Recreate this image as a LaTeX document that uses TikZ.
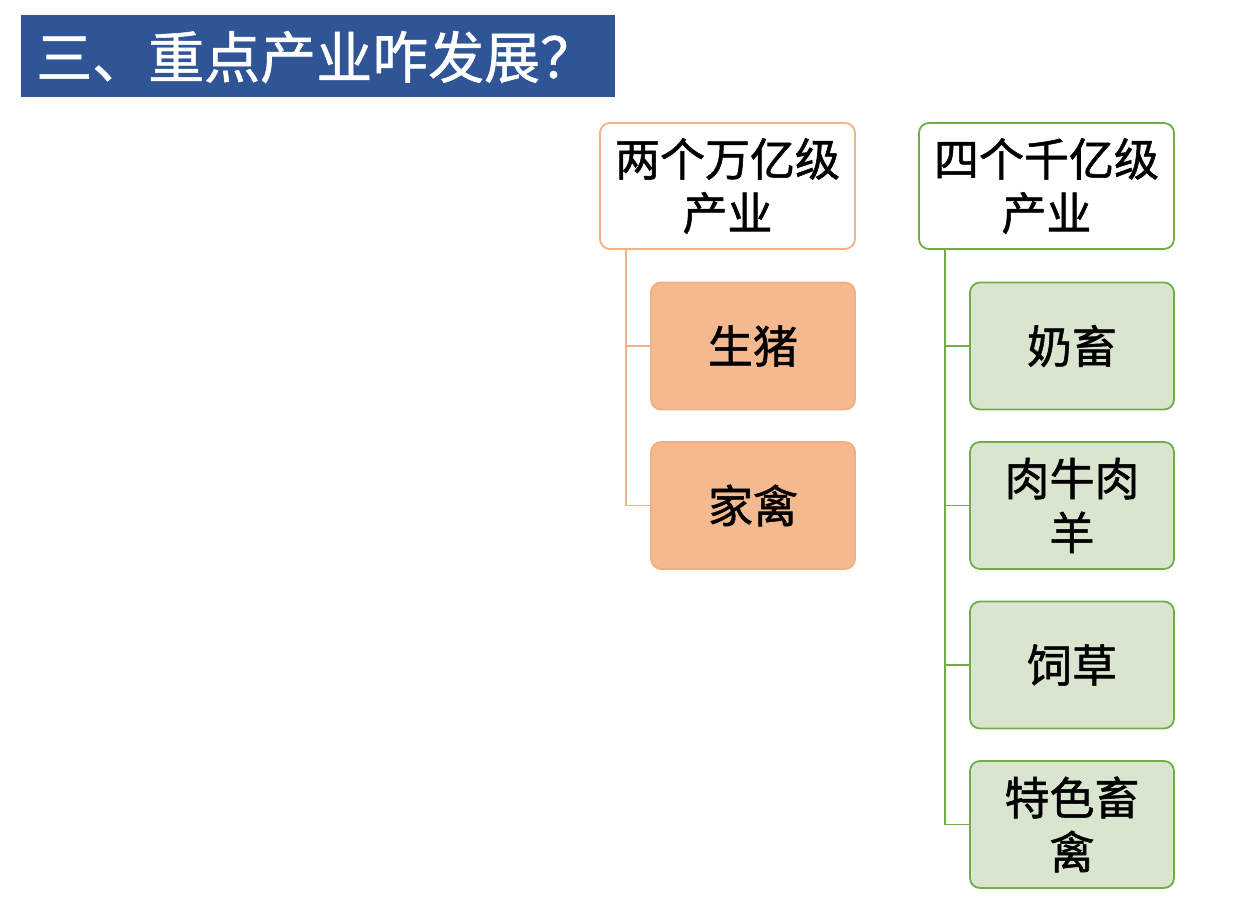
\documentclass[tikz,border=0pt]{standalone}
\usepackage{fontspec}
\setmainfont{Noto Sans CJK SC}
\newfontfamily\cjk[FakeBold=1.2]{Noto Sans CJK SC}
\newfontfamily\cjktitle[FakeBold=1]{Noto Sans CJK SC}
\definecolor{titleblue}{HTML}{2F5597}
\definecolor{orline}{HTML}{F4B183}
\definecolor{orfill}{HTML}{F4B98F}
\definecolor{orborder}{HTML}{F2AE80}
\definecolor{grline}{HTML}{70AD47}
\definecolor{grfill}{HTML}{DAE5D0}
\begin{document}
\begin{tikzpicture}[x=1pt,y=-1pt,
  txt/.style={font=\cjk\fontsize{45}{54}\selectfont, text=black, align=center, inner sep=0pt},
  parentbox/.style={draw, line width=1.8pt, fill=white, rounded corners=10pt, minimum width=255pt, minimum height=126pt, txt},
  childbox/.style={draw, line width=1.8pt, rounded corners=10pt, minimum width=204pt, minimum height=127pt, txt},
  orp/.style={parentbox, draw=orline},
  orc/.style={childbox, draw=orborder, fill=orfill},
  grp/.style={parentbox, draw=grline},
  grc/.style={childbox, draw=grline, fill=grfill},
  orconn/.style={draw=orline, line width=1.8pt},
  grconn/.style={draw=grline, line width=1.8pt}
]
\useasboundingbox (0,0) rectangle (1248,910);
% title banner
\node[fill=titleblue, minimum width=594pt, minimum height=82pt, inner sep=0pt, anchor=north west] (banner) at (21,15) {};
\node[anchor=west, text=white, font=\cjktitle\fontsize{56}{64}\selectfont, inner sep=0pt] (title) at (36,57) {三、重点产业咋发展？};
% orange group
\node[orp] (p1) at (727.5,186) {两个万亿级\\产业};
\node[orc] (c11) at (753,346) {生猪};
\node[orc] (c12) at (753,505.5) {家禽};
\coordinate (o1) at (626,346);
\coordinate (o2) at (626,505.5);
\draw[orconn] (p1.south -| o1) -- (o2) -- (c12.west);
\draw[orconn] (o1) -- (c11.west);
% green group
\node[grp] (p2) at (1046.5,186) {四个千亿级\\产业};
\node[grc] (c21) at (1072,346) {奶畜};
\node[grc] (c22) at (1072,505.5) {肉牛肉\\羊};
\node[grc] (c23) at (1072,665) {饲草};
\node[grc] (c24) at (1072,824.5) {特色畜\\禽};
\coordinate (g1) at (945,346);
\coordinate (g2) at (945,505.5);
\coordinate (g3) at (945,665);
\coordinate (g4) at (945,824.5);
\draw[grconn] (p2.south -| g1) -- (g4) -- (c24.west);
\draw[grconn] (g1) -- (c21.west);
\draw[grconn] (g2) -- (c22.west);
\draw[grconn] (g3) -- (c23.west);
\end{tikzpicture}
\end{document}
